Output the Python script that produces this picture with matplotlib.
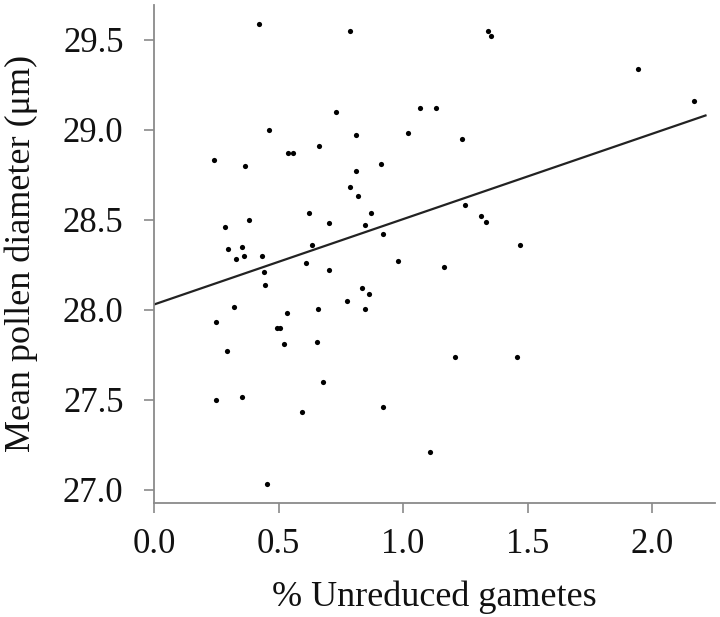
import matplotlib
matplotlib.use("Agg")
import matplotlib.pyplot as plt
import numpy as np

# ── Data ──────────────────────────────────────────────────────────────────────

unreduced = [
    0.422, 0.786, 0.732, 0.461, 0.664, 0.536, 0.558, 0.242, 0.365, 0.786,
    0.621, 0.382, 0.703, 0.286, 0.635, 0.297, 0.354, 0.363, 0.433, 0.330,
    0.612, 0.701, 0.442, 0.445, 0.775, 0.323, 0.535, 0.659, 0.250, 0.492,
    0.505, 0.523, 0.656, 0.291, 0.679, 0.250, 0.355, 0.596, 0.455, 1.341,
    1.354, 1.067, 1.132, 0.813, 1.020, 1.237, 0.911, 0.811, 0.820, 0.871,
    1.248, 1.312, 1.333, 0.846, 0.920, 1.468, 0.979, 1.164, 0.834, 0.865,
    0.846, 1.208, 1.456, 0.919, 1.109, 1.944, 2.170,
]
diameter = [
    29.59, 29.55, 29.10, 29.00, 28.91, 28.87, 28.87, 28.83, 28.80, 28.68,
    28.54, 28.50, 28.48, 28.46, 28.36, 28.34, 28.35, 28.30, 28.30, 28.28,
    28.26, 28.22, 28.21, 28.14, 28.05, 28.015, 27.98, 28.005, 27.93, 27.90,
    27.90, 27.81, 27.82, 27.77, 27.60, 27.50, 27.515, 27.43, 27.03, 29.55,
    29.52, 29.12, 29.12, 28.97, 28.98, 28.95, 28.81, 28.77, 28.63, 28.54,
    28.58, 28.52, 28.49, 28.47, 28.42, 28.36, 28.27, 28.24, 28.12, 28.09,
    28.005, 27.74, 27.74, 27.46, 27.21, 29.34, 29.16,
]

# regression line (intercept, slope) and its x range
intercept = 28.03
slope     = 0.474
line_x    = [0.0, 2.215]

x_ticks = [0.0, 0.5, 1.0, 1.5, 2.0]
y_ticks = [27.0, 27.5, 28.0, 28.5, 29.0, 29.5]

# ── Plot ──────────────────────────────────────────────────────────────────────

plt.rcParams["font.family"] = ["Liberation Serif", "DejaVu Serif"]

fig = plt.figure(figsize=(7.2, 6.17), dpi=100)
ax  = fig.add_axes([0.214, 0.185, 0.779, 0.807])

ax.scatter(unreduced, diameter, s=14, color="black", linewidths=0, zorder=3)

lx = np.array(line_x)
ax.plot(lx, intercept + slope * lx, color="#222222", linewidth=1.6, zorder=2)

ax.set_xlim(0.0, 2.253)
ax.set_ylim(26.928, 29.694)
ax.set_xticks(x_ticks)
ax.set_yticks(y_ticks)
ax.set_xticklabels([f"{v:.1f}" for v in x_ticks])
ax.set_yticklabels([f"{v:.1f}" for v in y_ticks])

for side in ["top", "right"]:
    ax.spines[side].set_visible(False)
for side in ["left", "bottom"]:
    ax.spines[side].set_color("#8a8a8a")
    ax.spines[side].set_linewidth(1.3)

ax.tick_params(axis="both", direction="out", length=7, width=1.2,
               color="#8a8a8a", labelsize=25, labelcolor="#111111")
ax.tick_params(axis="x", pad=11)
ax.tick_params(axis="y", pad=15)

ax.set_xlabel("% Unreduced gametes", fontsize=26, labelpad=14, color="#111111")
ax.set_ylabel("Mean pollen diameter (μm)", fontsize=26, labelpad=18, color="#111111")

plt.savefig("out.png", dpi=100)
plt.close()
